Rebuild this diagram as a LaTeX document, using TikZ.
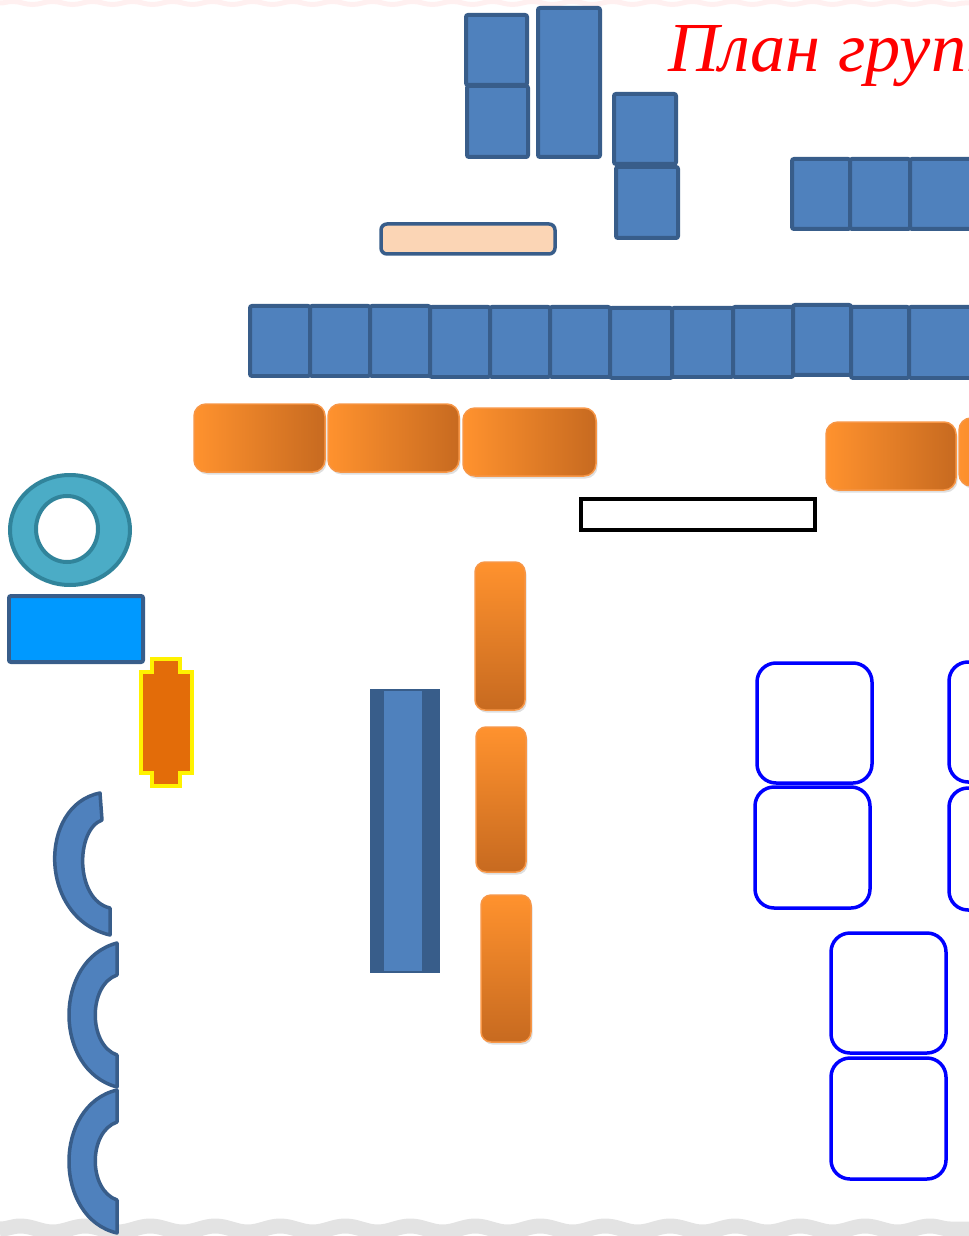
\documentclass[tikz,border=0pt]{standalone}
\usepackage{fontspec}
\newfontfamily\titulofont{Liberation Serif}
\usetikzlibrary{shadows,decorations.pathmorphing}
\definecolor{mesaazul}{HTML}{4F81BD}
\definecolor{bordeazul}{HTML}{385D8A}
\definecolor{durazno}{HTML}{FBD5B5}
\definecolor{naranjaclaro}{HTML}{FF922E}
\definecolor{naranjaoscuro}{HTML}{C76A20}
\definecolor{naranjaborde}{HTML}{F79646}
\definecolor{turquesa}{HTML}{4BACC6}
\definecolor{turquesaborde}{HTML}{31849B}
\definecolor{celeste}{HTML}{0099FF}
\definecolor{naranjafuerte}{HTML}{E36C09}
\begin{document}
\begin{tikzpicture}[x=0.02cm,y=-0.02cm,
    mesa/.style={fill=mesaazul, draw=bordeazul, line width=0.08cm, rounded corners=0.04cm},
    cojinh/.style={left color=naranjaclaro, right color=naranjaoscuro, draw=naranjaborde,
        line width=0.03cm, rounded corners=0.24cm,
        drop shadow={opacity=0.25, shadow xshift=0.03cm, shadow yshift=-0.05cm}},
    cojinv/.style={top color=naranjaclaro, bottom color=naranjaoscuro, draw=naranjaborde,
        line width=0.03cm, rounded corners=0.2cm,
        drop shadow={opacity=0.25, shadow xshift=0.03cm, shadow yshift=-0.05cm}},
    silla/.style={fill=white, draw=blue, line width=0.07cm, rounded corners=0.38cm},
    arco/.style={fill=mesaazul, draw=bordeazul, line width=0.07cm, line join=round}]
    \useasboundingbox (0,0) rectangle (969,1236);
    \clip (0,0) rectangle (969,1236);

    % Bordes decorativos
    \draw[red!6, line width=0.1cm, decorate, decoration={snake, amplitude=0.03cm, segment length=0.8cm}] (0,3) -- (969,3);
    \draw[gray!22, line width=0.3cm, decorate, decoration={snake, amplitude=0.06cm, segment length=1.3cm}] (0,1229) -- (969,1229);

    % Titulo
    \node[anchor=base west, inner sep=0pt, text=red, font=\titulofont\itshape\fontsize{40}{42}\selectfont] (titulo) at (668,72) {План групп};

    % Mesas de arriba
    \draw[mesa] (466,15) rectangle (527,85);
    \draw[mesa] (467,86) rectangle (528,157);
    \draw[mesa] (538,8) rectangle (600,157);
    \draw[mesa] (614,94) rectangle (676,164);
    \draw[mesa] (616,167) rectangle (678,238);
    \foreach \xa/\xb in {792/850,850/910,910/975}
        \draw[mesa] (\xa,159) rectangle (\xb,229);

    % Banco
    \draw[fill=durazno, draw=bordeazul, line width=0.07cm, rounded corners=0.12cm] (381,224) rectangle (555,254);

    % Fila larga de mesas
    \foreach \xa/\xb/\ya/\yb in {250/310/306/376,310/370/306/376,370/430/306/376,430/490/307/377,
        490/550/307/377,550/610/307/377,610/672/308/378,672/733/308/377,733/793/307/377,
        793/851/305/375,851/909/307/378,909/975/307/378}
        \draw[mesa] (\xa,\ya) rectangle (\xb,\yb);

    % Cojines horizontales
    \draw[cojinh] (194,404) rectangle (325,472);
    \draw[cojinh] (328,404) rectangle (459,472);
    \draw[cojinh] (463,408) rectangle (596,476);
    \draw[cojinh] (826,422) rectangle (956,490);
    \draw[cojinh] (959,418) rectangle (1090,486);

    % Alfombra
    \draw[fill=white, draw=black, line width=0.07cm] (581,499) rectangle (815,530);

    % Aro y caja
    \draw[fill=turquesa, draw=turquesaborde, line width=0.08cm] (70,530) ellipse [x radius=60, y radius=55];
    \draw[fill=white, draw=turquesaborde, line width=0.08cm] (67,529) ellipse [x radius=31, y radius=33];
    \draw[fill=celeste, draw=bordeazul, line width=0.08cm, rounded corners=0.04cm] (9,596) rectangle (143,662);

    % Pieza con borde amarillo
    \draw[fill=naranjafuerte, draw=yellow, line width=0.07cm]
        (152,659) -- (180,659) -- (180,672) -- (192,672) -- (192,773) -- (180,773) -- (180,786)
        -- (152,786) -- (152,773) -- (141,773) -- (141,672) -- (152,672) -- cycle;

    % Arcos
    \draw[arco] (100,793) -- (102,820) .. controls (75,830) and (75,900) .. (110,908)
        -- (110,935) .. controls (38,918) and (38,805) .. cycle;
    \draw[arco] (117,943) -- (117,975) .. controls (88,985) and (88,1045) .. (117,1055)
        -- (117,1087) .. controls (53,1070) and (53,960) .. cycle;
    \draw[arco] (117,1090) -- (117,1122) .. controls (88,1132) and (88,1190) .. (117,1200)
        -- (117,1233) .. controls (53,1218) and (53,1105) .. cycle;

    % Piano
    \fill[bordeazul] (370,689) rectangle (440,973);
    \fill[mesaazul] (384,691) rectangle (422,971);

    % Cojines verticales
    \draw[cojinv] (475,562) rectangle (525,710);
    \draw[cojinv] (476,727) rectangle (526,872);
    \draw[cojinv] (481,895) rectangle (531,1042);

    % Sillas
    \draw[silla] (757,663) rectangle (872,783);
    \draw[silla] (755,787) rectangle (870,908);
    \draw[silla] (949,662) rectangle (1064,782);
    \draw[silla] (949,788) rectangle (1064,910);
    \draw[silla] (831,933) rectangle (946,1053);
    \draw[silla] (831,1058) rectangle (946,1179);
\end{tikzpicture}
\end{document}
